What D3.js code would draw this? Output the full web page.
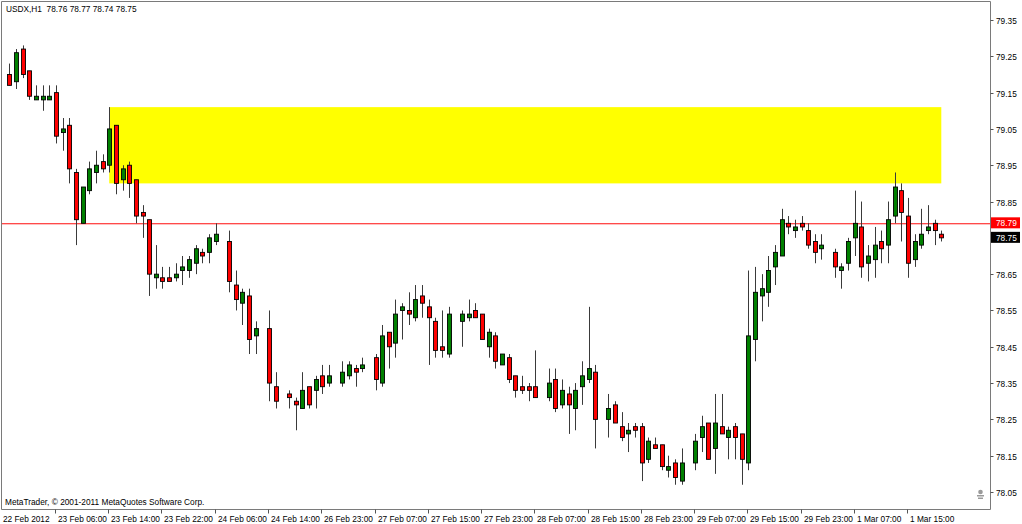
<!DOCTYPE html>
<html><head><meta charset="utf-8">
<script src="https://cdn.jsdelivr.net/npm/d3@7/dist/d3.min.js"></script>
<style>html,body{margin:0;padding:0;background:#fff;overflow:hidden}</style>
</head><body>
<svg id="c" width="1022" height="524"></svg>
<script>
// ---------------- data ----------------
const symbolTitle = "USDX,H1  78.76 78.77 78.74 78.75";
const copyrightText = "MetaTrader, \u00A9 2001-2011 MetaQuotes Software Corp.";
const firstDateLabel = "22 Feb 2012";

// hourly bars, index 0 = 22 Feb 23:00 ; null = empty slot in the picture
const openP = [79.20,79.18,79.27,79.21,79.13,79.13,79.13,79.15,79.04,79.06,
 78.93,78.79,78.88,78.93,78.96,78.95,79.06,78.91,78.95,78.91,
 78.82,78.80,78.64,78.64,78.64,78.64,78.66,78.66,78.68,78.71,
 78.71,78.74,null,78.74,78.62,78.57,78.59,78.48,null,78.50,
 78.34,null,78.32,78.30,78.28,78.34,78.33,78.37,78.35,null,
 78.35,78.37,78.39,78.39,null,78.42,78.35,78.49,78.46,78.55,
 78.55,78.53,78.59,78.56,78.52,78.45,78.43,null,78.52,78.53,
 78.55,78.54,78.45,78.48,78.40,78.42,78.37,78.34,78.34,78.34,
 null,78.31,78.36,78.29,78.32,78.28,78.34,78.36,78.38,null,
 78.25,78.29,78.23,78.21,78.23,78.23,78.14,78.18,78.18,78.11,
 78.13,78.08,null,78.13,78.20,78.24,78.17,78.23,78.20,78.23,
 78.21,78.13,78.47,78.59,78.60,78.67,78.70,78.79,78.77,78.79,
 78.77,78.74,78.72,null,78.71,78.66,78.68,78.75,78.78,78.68,
 78.69,78.74,78.73,78.81,78.88,78.81,78.69,78.73,78.77,78.79,
 78.76];
const highP = [79.23,79.27,79.28,79.21,79.17,79.17,79.17,79.17,79.08,79.08,
 78.94,78.89,78.96,78.99,78.98,79.11,79.06,78.95,78.96,78.91,
 78.84,78.80,78.73,78.67,78.67,78.68,78.70,78.70,78.73,78.72,
 78.76,78.79,null,78.77,78.66,78.61,78.61,78.52,null,78.55,
 78.38,null,78.33,78.31,78.38,78.34,78.37,78.40,78.40,null,
 78.41,78.41,78.40,78.42,null,78.43,78.51,78.49,78.58,78.57,
 78.60,78.62,78.62,78.58,78.53,78.55,78.56,null,78.55,78.58,
 78.57,78.54,78.50,78.49,78.43,78.43,78.37,78.37,78.35,78.44,
 null,78.39,78.39,78.36,78.34,78.35,78.41,78.56,78.40,null,
 78.32,78.30,78.27,78.24,78.24,78.24,78.20,78.20,78.18,78.15,
 78.14,78.17,null,78.21,78.26,78.24,78.32,78.32,78.23,78.24,
 78.21,78.66,78.67,78.65,78.70,78.73,78.83,78.81,78.80,78.81,
 78.79,78.76,78.76,null,78.72,78.68,78.75,78.88,78.85,78.73,
 78.78,78.77,78.85,78.93,78.90,78.86,78.76,78.83,78.84,78.80,
 78.77];
const lowP = [79.17,79.16,79.19,79.13,79.13,79.10,79.13,79.01,78.99,78.90,
 78.73,78.79,78.87,78.90,78.93,78.93,78.87,78.88,78.86,78.79,
 78.75,78.59,78.61,78.61,78.63,78.63,78.62,78.64,78.65,78.68,
 78.68,78.73,null,78.60,78.55,78.51,78.43,78.43,null,78.30,
 78.28,null,78.28,78.22,78.28,78.28,78.28,78.32,78.34,null,
 78.34,78.36,78.34,78.38,null,78.33,78.34,78.39,78.42,78.47,
 78.51,78.52,78.53,78.40,78.42,78.42,78.42,null,78.45,78.52,
 78.53,78.47,78.42,78.39,78.40,78.35,78.31,78.32,78.30,78.31,
 null,78.30,78.27,78.28,78.21,78.22,78.29,78.35,78.17,null,
 78.20,78.24,78.19,78.16,78.20,78.08,78.13,78.17,78.11,78.09,
 78.07,78.07,null,78.11,78.16,78.14,78.10,78.21,78.14,78.14,
 78.07,78.11,78.41,78.52,78.56,78.62,78.70,78.76,78.75,78.77,
 78.72,78.68,78.69,null,78.64,78.61,78.66,78.70,78.64,78.63,
 78.64,78.68,78.68,78.79,78.74,78.64,78.67,78.72,78.76,78.73,
 78.74];
const closeP = [79.17,79.26,79.20,79.14,79.14,79.14,79.14,79.03,79.05,78.94,
 78.80,78.89,78.94,78.95,78.94,79.05,78.90,78.94,78.90,78.81,
 78.81,78.65,78.65,78.63,78.63,78.65,78.67,78.69,78.72,78.70,
 78.75,78.76,null,78.63,78.58,78.60,78.47,78.50,null,78.35,
 78.30,null,78.31,78.29,78.33,78.29,78.36,78.34,78.37,null,
 78.38,78.40,78.38,78.40,null,78.36,78.48,78.45,78.54,78.56,
 78.54,78.58,78.57,78.53,78.44,78.44,78.54,null,78.54,78.54,
 78.53,78.47,78.49,78.41,78.43,78.36,78.33,78.33,78.33,78.31,
 null,78.35,78.28,78.33,78.29,78.33,78.37,78.39,78.25,null,
 78.28,78.24,78.20,78.22,78.22,78.13,78.19,78.17,78.12,78.12,
 78.09,78.13,null,78.19,78.23,78.14,78.24,78.21,78.22,78.20,
 78.14,78.48,78.60,78.61,78.66,78.71,78.80,78.78,78.78,78.78,
 78.73,78.71,78.73,null,78.67,78.67,78.74,78.79,78.67,78.70,
 78.73,78.72,78.80,78.89,78.82,78.68,78.74,78.76,78.78,78.77,
 78.75];

const priceTicks = [79.35,79.25,79.15,79.05,78.95,78.85,78.65,78.55,78.45,78.35,78.25,78.15,78.05];
const timeLabels = ["23 Feb 06:00","23 Feb 14:00","23 Feb 22:00","24 Feb 06:00","24 Feb 14:00",
 "26 Feb 23:00","27 Feb 07:00","27 Feb 15:00","27 Feb 23:00","28 Feb 07:00","28 Feb 15:00",
 "28 Feb 23:00","29 Feb 07:00","29 Feb 15:00","29 Feb 23:00","1 Mar 07:00","1 Mar 15:00"];
const timeLabelBars = [7,15,23,31,39,47,55,63,71,79,87,95,103,111,119,127,135];

const zoneBars = [15, 140];
const zonePrices = [78.90, 79.11];
const hLinePrice = 78.79;
const bidPrice = 78.75;

// ---------------- drawing ----------------
const svg = d3.select("#c");
const plotL = 1.5, plotT = 1.5, plotR = 990.5, plotB = 509.5;
const x = d3.scaleLinear().domain([0, 140]).range([9.4, 941.3]);
const y = d3.scaleLinear().domain([78.05, 79.35]).range([492, 20]);
const font = "'Liberation Sans', Arial, sans-serif";

svg.append("rect").attr("width",1022).attr("height",524).attr("fill","#fff");

// yellow zone
svg.append("rect")
  .attr("x", x(zoneBars[0])).attr("y", y(zonePrices[1]))
  .attr("width", x(zoneBars[1]) - x(zoneBars[0]))
  .attr("height", y(zonePrices[0]) - y(zonePrices[1]))
  .attr("fill", "#ffff00");

// horizontal line
const hy = Math.round(y(hLinePrice)) + 0.5;
svg.append("line").attr("x1", plotL).attr("x2", plotR)
  .attr("y1", hy).attr("y2", hy)
  .attr("stroke", "#ff4a4a").attr("stroke-width", 1);
svg.append("line").attr("x1", plotL).attr("x2", plotR)
  .attr("y1", hy + 1).attr("y2", hy + 1)
  .attr("stroke", "#ffc0c0").attr("stroke-width", 1);

const bars = d3.range(openP.length).filter(i => openP[i] !== null).map(i => ({
  i, o: openP[i], h: highP[i], l: lowP[i], c: closeP[i]
}));

const g = svg.append("g");
g.selectAll("line.wick").data(bars).join("line")
  .attr("class","wick")
  .attr("x1", d => Math.round(x(d.i)) + 0.5).attr("x2", d => Math.round(x(d.i)) + 0.5)
  .attr("y1", d => y(d.h)).attr("y2", d => y(d.l))
  .attr("stroke", "#3a3a3a").attr("stroke-width", 1);

g.selectAll("rect.body").data(bars).join("rect")
  .attr("class","body")
  .attr("x", d => Math.round(x(d.i)) - 1.5)
  .attr("width", 4)
  .attr("y", d => y(Math.max(d.o, d.c)))
  .attr("height", d => Math.max(1, Math.abs(y(d.o) - y(d.c))))
  .attr("fill", d => d.c >= d.o ? "#008000" : "#ff0000")
  .attr("stroke", "#000").attr("stroke-width", 0.9);

// frame
svg.append("path")
  .attr("d", `M${plotL},${plotB}V${plotT}H${plotR}V${plotB}H${plotL}`)
  .attr("fill","none").attr("stroke","#7a7a7a").attr("stroke-width",1);

// price axis
const ya = svg.append("g");
priceTicks.forEach(p => {
  const yy = Math.round(y(p)) + 0.5;
  ya.append("line").attr("x1", plotR).attr("x2", plotR + 3).attr("y1", yy).attr("y2", yy)
    .attr("stroke", "#555");
  ya.append("text").attr("x", 996).attr("y", yy + 3).text(p.toFixed(2))
    .attr("font-family", font).attr("font-size", 8.3).attr("fill", "#000");
});

// price tags
function tag(p, bg) {
  const yy = y(p);
  svg.append("rect").attr("x", 991).attr("y", yy - 6).attr("width", 29).attr("height", 11).attr("fill", bg);
  svg.append("text").attr("x", 996).attr("y", yy + 3).text(p.toFixed(2))
    .attr("font-family", font).attr("font-size", 8.3).attr("fill", "#fff");
}
tag(hLinePrice, "#ff0000");
tag(bidPrice, "#000000");

// time axis
const xa = svg.append("g");
xa.append("text").attr("x", 3).attr("y", 522).text(firstDateLabel)
  .attr("font-family", font).attr("font-size", 8.3);
timeLabels.forEach((t, k) => {
  const xx = Math.round(x(timeLabelBars[k])) - 0.5;
  xa.append("line").attr("x1", xx).attr("x2", xx).attr("y1", plotB).attr("y2", plotB + 4)
    .attr("stroke", "#555");
  xa.append("text").attr("x", xx + 2.5).attr("y", 522).text(t)
    .attr("font-family", font).attr("font-size", 8.3);
});

// texts
svg.append("text").attr("x", 6).attr("y", 12).text(symbolTitle)
  .attr("font-family", font).attr("font-size", 8.3)
  .style("white-space","pre");
svg.append("text").attr("x", 5).attr("y", 505).text(copyrightText)
  .attr("font-family", font).attr("font-size", 8.3);

// small icon bottom right
const ic = svg.append("g").attr("fill", "#9a9a9a");
ic.append("circle").attr("cx", 980.5).attr("cy", 492).attr("r", 2.3);
ic.append("rect").attr("x", 977).attr("y", 495).attr("width", 7).attr("height", 1.5);
ic.append("rect").attr("x", 978).attr("y", 497.5).attr("width", 5).attr("height", 1.5);
</script>
</body></html>
